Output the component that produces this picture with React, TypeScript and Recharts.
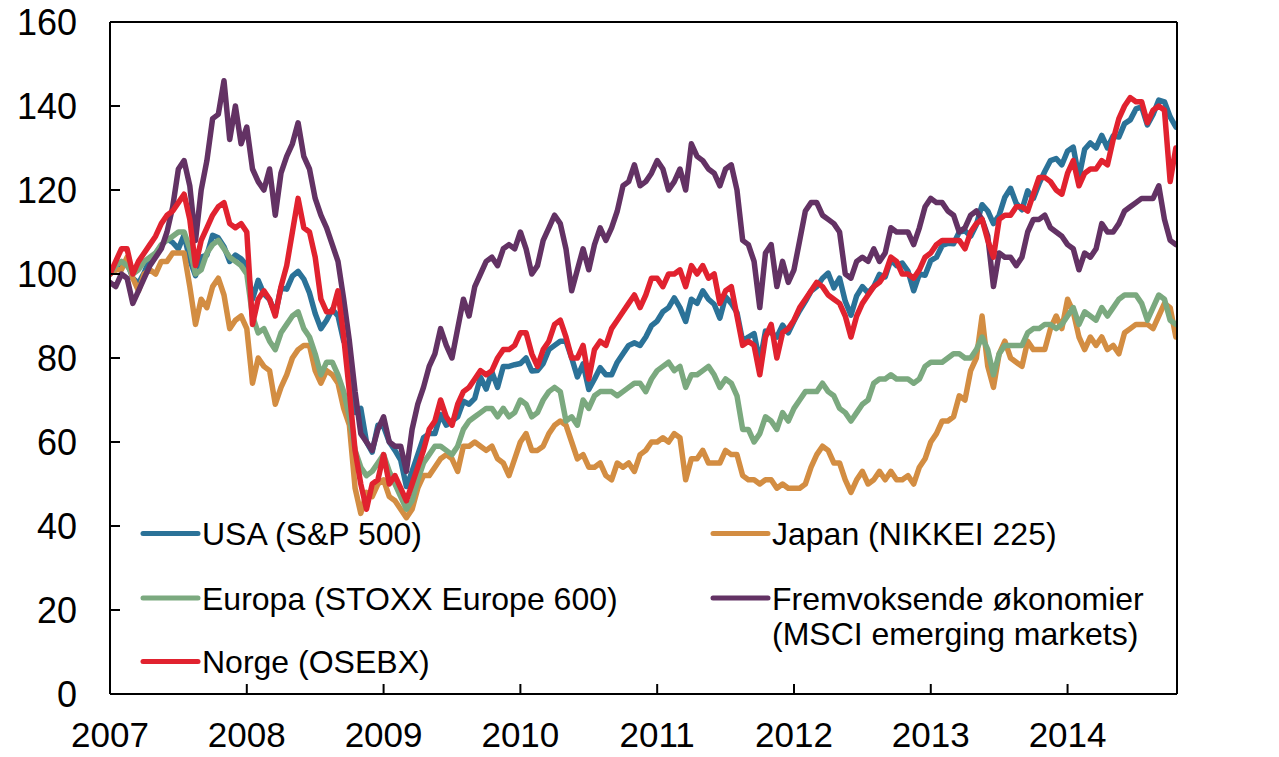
import React from 'react';
import { LineChart, Line, XAxis, YAxis, ReferenceLine } from 'recharts';

// Semi-monthly observations, index = 100 at start of 2007
const START_YEAR = 2007;
const POINTS_PER_YEAR = 24;
const X_END = 2014.8;

const yearTicks = [2007, 2008, 2009, 2010, 2011, 2012, 2013, 2014];
const valueTicks = [0, 20, 40, 60, 80, 100, 120, 140, 160];

const usa = [
  100, 101, 102, 102.8, 99, 97.8, 100.3, 103.6, 104.9, 106.7, 108.4, 107.5, 106, 109.3, 103.4, 99.6, 104, 104.5, 109.2, 108.6, 106.5, 103, 104.5, 103.6, 102, 94, 98.5, 95.3, 93.9, 90.5, 96.7, 96.4, 99.5, 100.6,
  98.8, 95.5, 90.6, 87, 89, 91.6, 90, 84, 82, 67, 68, 60, 57.6, 64, 63.7, 60, 58, 55.7, 49.4, 53, 57, 61, 62, 62, 66.5, 64, 65, 66, 69.7, 69, 70.4, 75.4, 72.6,
  76.7, 73, 78, 78, 78.4, 78.7, 80, 76.9, 77, 78.7, 82, 83, 84, 84, 80, 75.5, 78.6, 72.5, 75, 77.7, 76, 76, 79, 81, 83, 83.6, 83, 85, 87.7, 88.8, 91, 92, 94.3,
  92, 88.7, 94, 93, 96, 94, 92.8, 89.5, 94.6, 93, 90.8, 84, 85, 85.8, 79, 86.4, 86, 85, 87.8, 86, 88.8, 91.3, 93.5, 95.9, 97, 99, 100.2, 96.7, 99, 93.5, 90.2, 94.8, 97, 95.5,
  97, 99.9, 99.3, 103.4, 102, 102.6, 100.7, 96, 100, 99.7, 103.2, 104, 106.8, 107.3, 107.2, 110, 110.3, 109, 111.7, 116.5, 115, 112, 114, 118.3, 120.4, 116.8, 115.3, 119.8, 118, 121.5, 124.4, 127, 127.5,
  126, 129.3, 130.2, 123, 129.7, 131.2, 130, 133, 130, 132.9, 132.6, 135.8, 136.7, 139.3, 139.8, 135.5, 138, 141.4, 141, 137.4, 135,
];

const japan = [
  100, 101, 101, 104, 99, 96, 100, 101, 100, 103, 103, 105, 105, 105, 97, 88, 94, 92, 97, 99, 95, 87, 89, 90, 87, 74, 80, 78, 77, 69, 73, 76, 80, 82,
  83, 83, 77, 74, 77, 76, 74, 68, 64, 49, 43, 48, 47, 50, 51, 47, 46, 44, 42, 44, 49, 52, 52, 54, 56, 57, 56, 53, 59, 59, 60, 59, 58,
  59, 56, 55, 52, 56, 60, 62, 58, 58, 59, 62, 64, 65, 64, 60, 56, 57, 54, 54, 55, 52, 51, 55, 54, 55, 53, 57, 58, 60, 60, 61, 60, 62,
  61, 51, 56, 56, 58, 55, 55, 55, 58, 57, 57, 52, 51, 51, 50, 51, 51, 49, 50, 49, 49, 49, 50, 54, 57, 59, 58, 55, 55, 51, 48, 51, 53, 50,
  51, 53, 51, 53, 51, 51, 52, 50, 54, 56, 60, 62, 65, 65, 66, 71, 70, 77, 80, 90, 78, 73, 81, 84, 80, 79, 78, 84, 82, 82, 82, 87, 90,
  87, 94, 91, 85, 82, 85, 83, 85, 82, 83, 81, 86, 87, 88, 88, 88, 87, 90, 93, 92, 85,
];

const europa = [
  100, 102, 103, 102, 100, 101, 103, 104, 105, 107, 108, 109, 110, 110, 106, 100, 101, 105, 107, 108, 106, 104, 103, 102, 100, 90, 86, 87, 84, 82, 86, 88, 90, 91,
  87, 85, 81, 76, 79, 79, 76, 72, 66, 58, 54, 52, 53, 55, 57, 53, 50, 47, 44, 46, 51, 55, 57, 59, 59, 58, 57, 59, 63, 65, 66, 67, 68,
  68, 66, 68, 66, 67, 70, 69, 66, 67, 70, 72, 73, 72, 65, 66, 64, 70, 68, 71, 72, 72, 72, 71, 72, 73, 74, 74, 72, 75, 77, 78, 79, 77,
  78, 73, 76, 76, 77, 78, 76, 73, 75, 74, 71, 63, 63, 60, 62, 66, 65, 63, 67, 65, 68, 70, 72, 72, 72, 74, 72, 71, 68, 67, 65, 67, 69, 70,
  74, 75, 75, 76, 75, 75, 75, 74, 75, 78, 79, 79, 79, 80, 81, 81, 80, 80, 82, 85, 82, 76, 81, 83, 83, 83, 83, 86, 87, 87, 88, 88, 87,
  88, 90, 92, 88, 91, 90, 89, 92, 90, 92, 94, 95, 95, 95, 93, 89, 92, 95, 94, 89, 88,
];

const emerging = [
  98, 97, 100, 99, 93, 96, 99, 102, 104, 106, 110, 116, 125, 127, 121, 108, 120, 127, 137, 138, 146, 132, 140, 131, 135, 125, 122, 120, 125, 114, 124, 128, 131, 136,
  128, 125, 118, 114, 111, 107, 103, 94, 84, 72, 62, 60, 58, 63, 66, 60, 59, 59, 53, 63, 69, 73, 78, 81, 87, 83, 80, 87, 94, 90, 97, 100, 103,
  104, 102, 106, 107, 106, 110, 106, 100, 102, 108, 111, 114, 112, 106, 96, 101, 106, 101, 107, 111, 108, 111, 115, 121, 122, 126, 121, 122, 124, 127, 125, 120, 122,
  125, 120, 131, 128, 127, 125, 124, 121, 125, 126, 120, 108, 107, 103, 92, 105, 107, 97, 103, 98, 101, 108, 115, 117, 117, 114, 113, 112, 110, 100, 99, 103, 104, 103,
  106, 103, 105, 111, 110, 110, 110, 107, 111, 116, 118, 117, 117, 115, 114, 110, 111, 114, 115, 113, 109, 97, 105, 104, 104, 102, 104, 110, 113, 113, 114, 111, 110,
  109, 107, 106, 101, 105, 104, 106, 112, 110, 110, 112, 115, 116, 117, 118, 118, 118, 121, 113, 108, 107,
];

const norge = [
  100, 103, 106, 106, 100, 103, 105, 107, 109, 112, 114, 115, 117, 119, 113, 102, 108, 111, 114, 116, 117, 112, 111, 112, 110, 88, 94, 96, 94, 90, 97, 102, 110, 118,
  111, 110, 104, 94, 91, 91, 96, 85, 72, 58, 50, 44, 50, 51, 57, 50, 52, 49, 46, 50, 54, 58, 63, 65, 70, 66, 64, 69, 72, 73, 75, 77, 76,
  77, 80, 82, 82, 83, 86, 86, 81, 78, 82, 84, 88, 89, 85, 80, 80, 83, 75, 82, 84, 83, 87, 89, 91, 93, 95, 92, 95, 99, 99, 97, 100, 100,
  101, 97, 102, 100, 102, 99, 100, 93, 96, 97, 90, 83, 84, 83, 76, 85, 88, 80, 86, 87, 89, 92, 94, 96, 98, 97, 95, 94, 93, 90, 85, 90, 93, 95,
  97, 98, 100, 104, 103, 100, 100, 99, 101, 104, 105, 107, 108, 108, 108, 108, 106, 110, 112, 113, 108, 104, 113, 114, 114, 116, 116, 115, 119, 123, 123, 122, 120,
  119, 124, 127, 121, 124, 125, 125, 127, 126, 132, 137, 140, 142, 141, 141, 136, 139, 140, 139, 122, 130,
];

const seriesDefs = [
  { key: 'usa', name: 'USA (S&P 500)', color: '#2B7298', values: usa },
  { key: 'japan', name: 'Japan (NIKKEI 225)', color: '#D38D42', values: japan },
  { key: 'europa', name: 'Europa (STOXX Europe 600)', color: '#7BA97F', values: europa },
  { key: 'emerging', name: 'Fremvoksende økonomier|(MSCI emerging markets)', color: '#633264', values: emerging },
  { key: 'norge', name: 'Norge (OSEBX)', color: '#E1222F', values: norge },
];

const data = usa.map((_, i) => {
  const row: Record<string, number> = { t: START_YEAR + i / POINTS_PER_YEAR };
  seriesDefs.forEach((s) => {
    row[s.key] = s.values[i];
  });
  return row;
});

// legend layout: column / row slots
const legendSlots: Record<string, { col: number; row: number }> = {
  usa: { col: 0, row: 0 },
  europa: { col: 0, row: 1 },
  norge: { col: 0, row: 2 },
  japan: { col: 1, row: 0 },
  emerging: { col: 1, row: 1 },
};

const FONT = 'Arial, "Liberation Sans", Helvetica, sans-serif';
const W = 1279;
const H = 757;

const tickStyle = { fontSize: 36, fill: '#000', fontFamily: FONT };
const xTickStyle = { fontSize: 35, fill: '#000', fontFamily: FONT };

function LegendOverlay() {
  const colX = [143, 713];
  const rowY = [533.5, 598, 661.5];
  const lineLen = 55;
  const fs = 32;
  return (
    <svg
      width={W}
      height={H}
      style={{ position: 'absolute', left: 0, top: 0, pointerEvents: 'none' }}
    >
      {seriesDefs.map((s) => {
        const slot = legendSlots[s.key];
        const x = colX[slot.col];
        const y = rowY[slot.row];
        const lines = s.name.split('|');
        return (
          <g key={s.key}>
            <line
              x1={x}
              x2={x + lineLen}
              y1={y}
              y2={y}
              stroke={s.color}
              strokeWidth={5}
              strokeLinecap="round"
            />
            {lines.map((ln, j) => (
              <text
                key={j}
                x={x + lineLen + 4}
                y={y + 11.5 + j * 35}
                fontSize={fs}
                fontFamily={FONT}
                fill="#000"
              >
                {ln}
              </text>
            ))}
          </g>
        );
      })}
    </svg>
  );
}

export default function App() {
  return (
    <div style={{ position: 'absolute', left: 0, top: 0, width: W, height: H, background: '#fff' }}>
      <LineChart
        width={W}
        height={H}
        data={data}
        margin={{ top: 22, right: 0, bottom: 0, left: 0 }}
      >
        <XAxis
          dataKey="t"
          type="number"
          domain={[START_YEAR, X_END]}
          ticks={yearTicks}
          interval={0}
          allowDataOverflow
          height={63}
          tickSize={-10}
          tickMargin={38}
          tick={xTickStyle}
          axisLine={{ stroke: '#000', strokeWidth: 2 }}
          tickLine={{ stroke: '#000', strokeWidth: 2 }}
        />
        <YAxis
          yAxisId="left"
          orientation="left"
          domain={[0, 160]}
          ticks={valueTicks}
          interval={0}
          width={110}
          tickSize={-10}
          tickMargin={43}
          tick={tickStyle}
          axisLine={{ stroke: '#000', strokeWidth: 2 }}
          tickLine={{ stroke: '#000', strokeWidth: 2 }}
        />
        <YAxis
          yAxisId="right"
          orientation="right"
          domain={[0, 160]}
          ticks={valueTicks}
          interval={0}
          width={102}
          tickSize={-10}
          tickMargin={45}
          tick={tickStyle}
          axisLine={{ stroke: '#000', strokeWidth: 2 }}
          tickLine={{ stroke: '#000', strokeWidth: 2 }}
        />
        <ReferenceLine yAxisId="left" y={160} stroke="#000" strokeWidth={2} />
        {seriesDefs.map((s) => (
          <Line
            key={s.key}
            yAxisId="left"
            type="linear"
            dataKey={s.key}
            name={s.name}
            stroke={s.color}
            strokeWidth={5.5}
            strokeLinejoin="round"
            strokeLinecap="round"
            dot={false}
            activeDot={false}
            isAnimationActive={false}
          />
        ))}
      </LineChart>
      <LegendOverlay />
    </div>
  );
}
